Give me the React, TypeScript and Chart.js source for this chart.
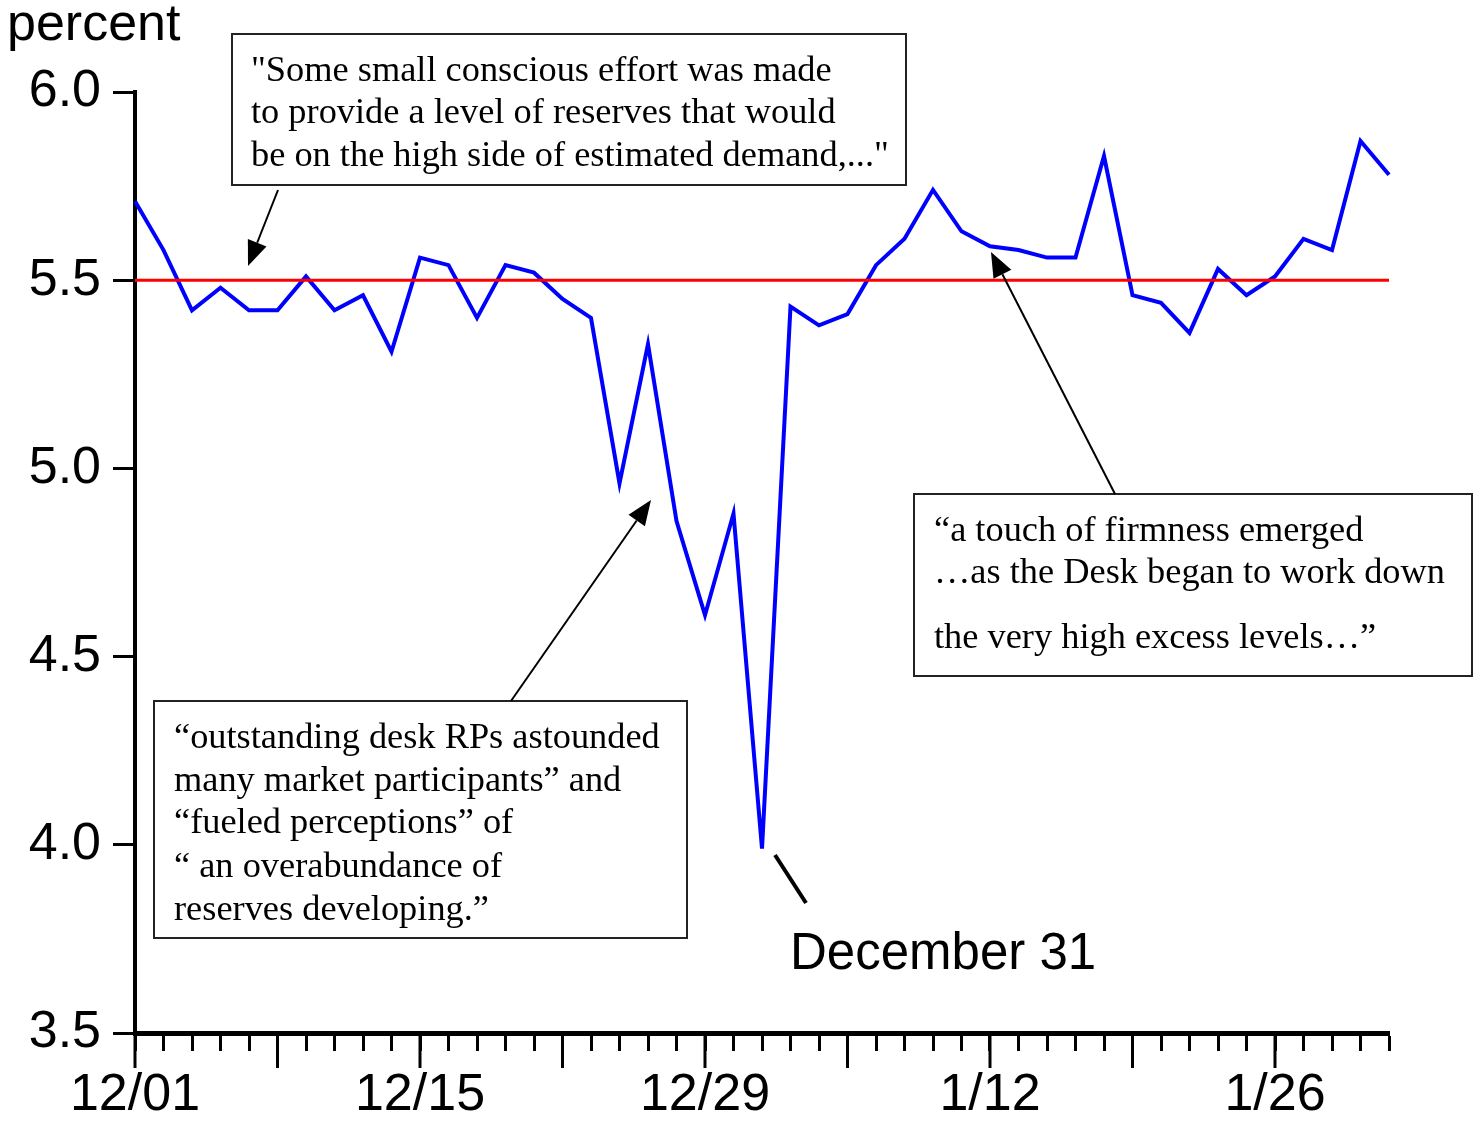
import React, { useEffect, useRef } from 'react';
import { Chart, registerables } from 'chart.js';
Chart.register(...registerables);

// ---- data ----
const tickLabels = ['12/01', '12/15', '12/29', '1/12', '1/26'];
const labelEvery = 10;
const majorEvery = 5;
const rates = [
  5.71, 5.58, 5.42, 5.48, 5.42, 5.42, 5.51, 5.42, 5.46, 5.31,
  5.56, 5.54, 5.40, 5.54, 5.52, 5.45, 5.40, 4.96, 5.33, 4.86,
  4.61, 4.88, 3.99, 5.43, 5.38, 5.41, 5.54, 5.61, 5.74, 5.63,
  5.59, 5.58, 5.56, 5.56, 5.83, 5.46, 5.44, 5.36, 5.53, 5.46,
  5.51, 5.61, 5.58, 5.87, 5.78,
];
const targetRate = 5.5;
const yMin = 3.5;
const yMax = 6.0;
const yStep = 0.5;

const box1Lines = [
  '"Some small conscious effort was made',
  'to provide a level of reserves that would',
  'be on the high side of estimated demand,..."',
];
const box2Lines = [
  '\u201Coutstanding desk RPs astounded',
  'many market participants\u201D and',
  '\u201Cfueled perceptions\u201D of',
  '\u201C an overabundance of',
  'reserves developing.\u201D',
];
const box3Lines = [
  '\u201Ca touch of firmness emerged',
  '\u2026as the Desk began to work down',
  'the very high excess levels\u2026\u201D',
];
const dec31Label = 'December 31';
const yUnit = 'percent';

const categories = rates.map((_, i) =>
  i % labelEvery === 0 && tickLabels[i / labelEvery] ? tickLabels[i / labelEvery] : ''
);

const SANS = "'Liberation Sans', Arial, sans-serif";
const SERIF = "'Liberation Serif', 'Times New Roman', serif";

function scaledText(ctx: CanvasRenderingContext2D, text: string, x: number, y: number, sx: number) {
  ctx.save();
  ctx.translate(x, y);
  ctx.scale(sx, 1);
  ctx.fillText(text, 0, 0);
  ctx.restore();
}

function arrow(ctx: CanvasRenderingContext2D, x0: number, y0: number, x1: number, y1: number) {
  const ang = Math.atan2(y1 - y0, x1 - x0);
  const len = 25, half = 10;
  const bx = x1 - len * Math.cos(ang), by = y1 - len * Math.sin(ang);
  ctx.beginPath();
  ctx.moveTo(x0, y0);
  ctx.lineTo(bx, by);
  ctx.stroke();
  ctx.beginPath();
  ctx.moveTo(x1, y1);
  ctx.lineTo(bx + half * Math.sin(ang), by - half * Math.cos(ang));
  ctx.lineTo(bx - half * Math.sin(ang), by + half * Math.cos(ang));
  ctx.closePath();
  ctx.fill();
}

function textBox(ctx: CanvasRenderingContext2D, l: number, t: number, r: number, b: number, lines: string[], tx: number, baselines: number[]) {
  ctx.save();
  ctx.fillStyle = '#fff';
  ctx.fillRect(l, t, r - l, b - t);
  ctx.strokeStyle = '#222';
  ctx.lineWidth = 2;
  ctx.strokeRect(l, t, r - l, b - t);
  ctx.fillStyle = '#000';
  ctx.font = `36px ${SERIF}`;
  ctx.textBaseline = 'alphabetic';
  ctx.textAlign = 'left';
  lines.forEach((ln, i) => scaledText(ctx, ln, tx, baselines[i], 1.01));
  ctx.restore();
}

const annotPlugin = {
  id: 'annot',
  afterDraw(chart: any) {
    const ctx: CanvasRenderingContext2D = chart.ctx;
    const xs = chart.scales.x;
    const ca = chart.chartArea;
    ctx.save();
    // major x ticks
    ctx.strokeStyle = '#000';
    ctx.lineWidth = 3;
    for (let i = 0; i < rates.length; i += majorEvery) {
      const px = xs.getPixelForValue(i);
      ctx.beginPath();
      ctx.moveTo(px, ca.bottom);
      ctx.lineTo(px, ca.bottom + 35);
      ctx.stroke();
    }
    // unit label
    ctx.fillStyle = '#000';
    ctx.font = `52px ${SANS}`;
    ctx.textAlign = 'left';
    ctx.textBaseline = 'alphabetic';
    ctx.fillText(yUnit, 7, 40);

    // boxes
    textBox(ctx, 232, 34, 906, 185, box1Lines, 251, [81, 123, 166]);
    textBox(ctx, 154, 701, 687, 938, box2Lines, 174, [748, 791, 833, 877, 920]);
    textBox(ctx, 914, 494, 1472, 676, box3Lines, 934, [541, 583, 648]);

    // arrows
    ctx.strokeStyle = '#000';
    ctx.fillStyle = '#000';
    ctx.lineWidth = 2;
    arrow(ctx, 278, 190, 248, 266);
    arrow(ctx, 511, 701, 651, 500);
    arrow(ctx, 1115, 494, 991, 252);

    // December 31 pointer
    ctx.lineWidth = 4;
    ctx.beginPath();
    ctx.moveTo(775, 855);
    ctx.lineTo(806, 903);
    ctx.stroke();
    ctx.font = `51px ${SANS}`;
    ctx.fillText(dec31Label, 790, 969);
    ctx.restore();
  },
};

export default function App() {
  const ref = useRef<HTMLCanvasElement | null>(null);
  useEffect(() => {
    if (!ref.current) return;
    const chart = new Chart(ref.current, {
      type: 'line',
      data: {
        labels: categories,
        datasets: [
          {
            data: rates.map(() => targetRate),
            borderColor: '#ff0000',
            borderWidth: 3,
            pointRadius: 0,
            tension: 0,
          },
          {
            data: rates,
            borderColor: '#0000ff',
            borderWidth: 4,
            pointRadius: 0,
            tension: 0,
            borderJoinStyle: 'miter',
          },
        ],
      },
      options: {
        responsive: false,
        animation: false,
        devicePixelRatio: 1,
        plugins: { legend: { display: false }, tooltip: { enabled: false } },
        layout: { padding: { top: 92, right: 89, left: 0, bottom: 0 } },
        scales: {
          x: {
            type: 'category',
            offset: false,
            border: { display: true, color: '#000', width: 5 },
            grid: { display: true, drawOnChartArea: false, drawTicks: true, tickLength: 18, tickWidth: 3, tickColor: '#000' },
            ticks: {
              autoSkip: false,
              maxRotation: 0,
              minRotation: 0,
              padding: 13,
              color: '#000',
              font: { family: SANS, size: 52 },
            },
            afterFit: (s: any) => { s.height = 88; },
          },
          y: {
            min: yMin,
            max: yMax,
            border: { display: true, color: '#000', width: 4 },
            grid: { display: true, drawOnChartArea: false, drawTicks: true, tickLength: 22, tickWidth: 3, tickColor: '#000' },
            ticks: {
              stepSize: yStep,
              padding: 12,
              color: '#000',
              font: { family: SANS, size: 52 },
              callback: (v: any) => Number(v).toFixed(1),
            },
            afterFit: (s: any) => { s.width = 135; },
          },
        },
      },
      plugins: [annotPlugin],
    } as any);
    return () => chart.destroy();
  }, []);
  return (
    <div style={{ position: 'absolute', left: 0, top: 0, width: 1478, height: 1121, background: '#fff' }}>
      <canvas ref={ref} width={1478} height={1121} style={{ width: 1478, height: 1121 }} />
    </div>
  );
}
